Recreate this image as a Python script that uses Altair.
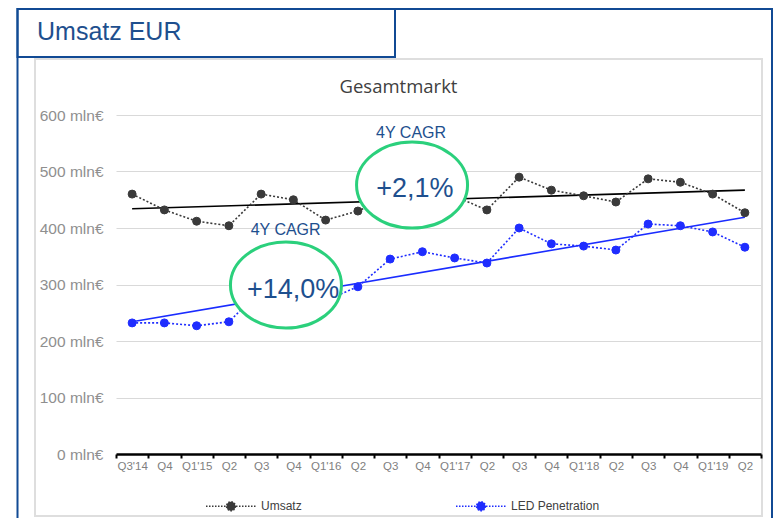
import json
import altair as alt
import pandas as pd

# ---------------- data ----------------
quarters = ["Q3'14", "Q4", "Q1'15", "Q2", "Q3", "Q4", "Q1'16", "Q2", "Q3", "Q4",
            "Q1'17", "Q2", "Q3", "Q4", "Q1'18", "Q2", "Q3", "Q4", "Q1'19", "Q2"]
umsatz = [460, 432, 412, 404, 460, 450, 414, 430, 455, 470,
          456, 432, 490, 467, 457, 446, 487, 481, 460, 427]
led = [232, 232, 227, 234, 290, 283, 272, 296, 345, 358,
       347, 338, 400, 372, 368, 361, 407, 404, 393, 366]
series_names = ["Umsatz", "LED Penetration"]
trend_umsatz = [434, 467]   # trend value at first and last quarter
trend_led = [234, 419]
y_ticks = [0, 100, 200, 300, 400, 500, 600]
cagr_caption = "4Y CAGR"
cagr_values = ["+2,1%", "+14,0%"]
main_title = "Umsatz EUR"
chart_title = "Gesamtmarkt"

# annotation anchor positions (in data units: quarter index, mln€)
ell_x = [8.68, 4.77]
ell_y = [476, 299]
cap_x = [8.65, 4.76]
cap_y = [558.8, 387.6]
val_x = [8.77, 4.99]
val_y = [455, 276]

# ---------------- tables ----------------
n = len(quarters)
idx = list(range(n))
df = pd.DataFrame({
    "i": idx + idx,
    "v": umsatz + led,
    "s": [series_names[0]] * n + [series_names[1]] * n,
})
trend_u_df = pd.DataFrame({"i": [0, n - 1], "v": trend_umsatz})
trend_l_df = pd.DataFrame({"i": [0, n - 1], "v": trend_led})
ell_df = pd.DataFrame({"i": ell_x, "v": ell_y})
cap_df = pd.DataFrame({"i": cap_x, "v": cap_y, "t": [cagr_caption] * 2})
val_df = pd.DataFrame({"i": val_x, "v": val_y, "t": cagr_values})
one = pd.DataFrame({"d": [0]})

W, H = 645, 339
FONT = "Liberation Sans"
BLUE_TXT = "#1e4f8e"
FRAME = "#114a94"

x_scale = alt.Scale(domain=[-0.5, n - 0.5], nice=False, zero=False)
y_scale = alt.Scale(domain=[0, 600], nice=False)

half_step = W / n / 2
x_axis = alt.Axis(
    values=[k - 0.5 for k in range(n + 1)],
    labelExpr=f'{json.dumps(quarters + [""])}[round(datum.value + 0.5)]',
    labelOffset=half_step, labelFlush=False, labelOverlap=False, labelBound=False,
    labelFont=FONT, labelFontSize=11.5, labelColor="#808080", labelPadding=2,
    domainColor="#000000", domainWidth=2.5, tickColor="#000000", tickWidth=2,
    tickSize=4, grid=False, title=None, zindex=1,
)
y_axis = alt.Axis(
    values=y_ticks, labelExpr="datum.value + ' mln€'", domain=False, ticks=False,
    labelFont=FONT, labelFontSize=15.5, labelColor="#8f8f8f", labelPadding=13,
    gridColor="#d9d9d9", gridWidth=1, title=None,
)

X = alt.X("i:Q", scale=x_scale, axis=x_axis)
Y = alt.Y("v:Q", scale=y_scale, axis=y_axis)

# ---------------- frames ----------------
outer = alt.Chart(one).mark_rect(fillOpacity=0, stroke=FRAME, strokeWidth=2).encode(
    x=alt.value(-98.5), x2=alt.value(656), y=alt.value(-106), y2=alt.value(430))
inner = alt.Chart(one).mark_rect(fillOpacity=0, stroke="#dedede", strokeWidth=2).encode(
    x=alt.value(-81), x2=alt.value(646), y=alt.value(-56), y2=alt.value(401))
tbox = alt.Chart(one).mark_rect(fillOpacity=0, stroke=FRAME, strokeWidth=2).encode(
    x=alt.value(-98.5), x2=alt.value(279), y=alt.value(-106), y2=alt.value(-58))
ttext = alt.Chart(one).mark_text(text=main_title, font=FONT, fontSize=25, color=BLUE_TXT,
                                 align="left", baseline="alphabetic").encode(
    x=alt.value(-79), y=alt.value(-75.5))
ctitle = alt.Chart(one).mark_text(text=chart_title, font="Open Sans", fontSize=18.5,
                                  color="#404040", align="center", baseline="alphabetic").encode(
    x=alt.value(282.5), y=alt.value(-22.3))

# ---------------- data marks ----------------
colors_pt = ["#3a3a3a", "#1f2dff"]
series_scale = alt.Scale(domain=series_names, range=colors_pt)

legend_path = ("M-1,0L1,0M0.18,0A0.18,0.18,0,1,1,-0.18,0"
               "A0.18,0.18,0,1,1,0.18,0Z")
leg = alt.Legend(
    title=None, orient="none", legendX=89, legendY=365, direction="horizontal",
    symbolType=legend_path, symbolSize=2500, symbolStrokeWidth=1.5,
    symbolDash=[1.5, 1.5], symbolOpacity=1, labelFont=FONT, labelFontSize=12,
    labelColor="#404040", labelOffset=4, columnPadding=151, padding=0,
)

trend_u = alt.Chart(trend_u_df).mark_line(color="#000000", strokeWidth=1.6).encode(x=X, y=Y)
trend_l = alt.Chart(trend_l_df).mark_line(color="#1a2cff", strokeWidth=1.6).encode(x=X, y=Y)

lines = alt.Chart(df).mark_line(strokeDash=[2, 2], strokeWidth=1.6).encode(
    x=X, y=Y, detail="s:N",
    stroke=alt.Stroke("s:N", scale=series_scale, legend=leg),
)
points = alt.Chart(df).mark_point(shape="circle", filled=True, size=64, opacity=1, strokeWidth=1).encode(
    x=X, y=Y,
    fill=alt.Fill("s:N", scale=series_scale, legend=leg),
    stroke=alt.Stroke("s:N", scale=series_scale, legend=leg),
)

# ---------------- annotations ----------------
k = 0.5523 * 0.775
ell_path = (f"M1,0C1,{k:.4f} 0.5523,0.775 0,0.775C-0.5523,0.775 -1,{k:.4f} -1,0"
            f"C-1,{-k:.4f} -0.5523,-0.775 0,-0.775C0.5523,-0.775 1,{-k:.4f} 1,0Z")
ellipses = alt.Chart(ell_df).mark_point(
    shape=ell_path, size=12321, filled=True, fill="white", stroke="#2bd07c",
    strokeWidth=3, opacity=1, fillOpacity=1, strokeOpacity=1,
).encode(x=X, y=Y)
captions = alt.Chart(cap_df).mark_text(font=FONT, fontSize=16, color=BLUE_TXT,
                                       align="center", baseline="alphabetic").encode(
    x=X, y=Y, text="t:N")
values = alt.Chart(val_df).mark_text(font=FONT, fontSize=27, color=BLUE_TXT,
                                     align="center", baseline="alphabetic").encode(
    x=X, y=Y, text="t:N")

chart = alt.layer(
    outer, inner, tbox, ttext, ctitle,
    trend_u, trend_l, lines, points, ellipses, captions, values,
).properties(
    width=W, height=H,
    autosize=alt.AutoSizeParams(type="none"),
    padding={"left": 108, "top": 107, "right": 13, "bottom": 64},
).configure_view(stroke="transparent")

chart.save("out.html", embed_options={"renderer": "svg", "actions": False})
